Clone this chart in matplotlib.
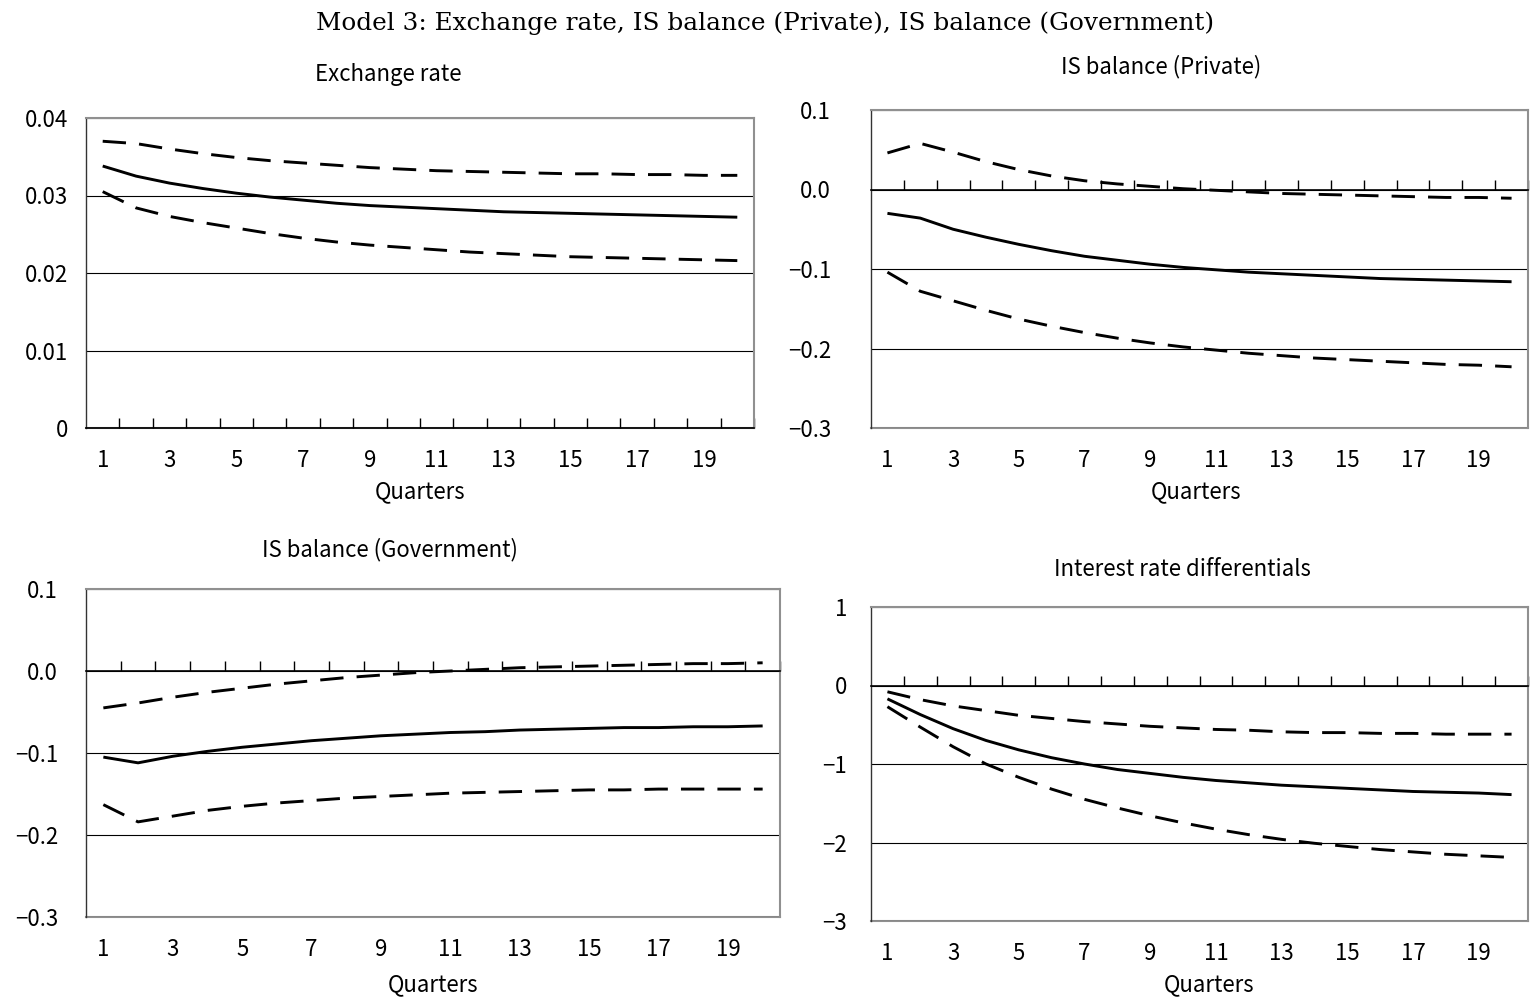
import numpy as np
import matplotlib
matplotlib.use('Agg')
import matplotlib.pyplot as plt
from matplotlib.ticker import FixedLocator, FuncFormatter

plt.rcParams['font.family'] = ['Noto Sans CJK JP', 'DejaVu Sans']

# quarters 1..20
quarters = np.arange(1, 21)

# Exchange rate
ex_mid = [0.0338, 0.0325, 0.0316, 0.0309, 0.0303, 0.0298, 0.0294, 0.0290, 0.0287, 0.0285,
          0.0283, 0.0281, 0.0279, 0.0278, 0.0277, 0.0276, 0.0275, 0.0274, 0.0273, 0.0272]
ex_up = [0.0370, 0.0367, 0.0360, 0.0354, 0.0349, 0.0345, 0.0342, 0.0339, 0.0336, 0.0334,
         0.0332, 0.0331, 0.0330, 0.0329, 0.0328, 0.0328, 0.0327, 0.0327, 0.0326, 0.0326]
ex_lo = [0.0305, 0.0284, 0.0273, 0.0265, 0.0258, 0.0251, 0.0245, 0.0240, 0.0236, 0.0233,
         0.0230, 0.0227, 0.0225, 0.0223, 0.0221, 0.0220, 0.0219, 0.0218, 0.0217, 0.0216]

# IS balance (Private)
pr_mid = [-0.030, -0.036, -0.050, -0.060, -0.069, -0.077, -0.084, -0.089, -0.094, -0.098,
          -0.101, -0.104, -0.106, -0.108, -0.110, -0.112, -0.113, -0.114, -0.115, -0.116]
pr_up = [0.046, 0.058, 0.047, 0.035, 0.025, 0.017, 0.011, 0.007, 0.004, 0.001,
         -0.001, -0.003, -0.005, -0.006, -0.007, -0.008, -0.009, -0.010, -0.010, -0.011]
pr_lo = [-0.104, -0.128, -0.140, -0.152, -0.163, -0.172, -0.180, -0.187, -0.193, -0.198,
         -0.202, -0.206, -0.209, -0.212, -0.214, -0.216, -0.218, -0.220, -0.221, -0.223]

# IS balance (Government)
gv_mid = [-0.105, -0.112, -0.104, -0.098, -0.093, -0.089, -0.085, -0.082, -0.079, -0.077,
          -0.075, -0.074, -0.072, -0.071, -0.070, -0.069, -0.069, -0.068, -0.068, -0.067]
gv_up = [-0.045, -0.039, -0.032, -0.026, -0.021, -0.016, -0.012, -0.008, -0.005, -0.002,
         0.000, 0.002, 0.004, 0.005, 0.006, 0.007, 0.008, 0.009, 0.009, 0.010]
gv_lo = [-0.163, -0.184, -0.177, -0.170, -0.165, -0.161, -0.158, -0.155, -0.153, -0.151,
         -0.149, -0.148, -0.147, -0.146, -0.145, -0.145, -0.144, -0.144, -0.144, -0.144]

# Interest rate differentials
ir_mid = [-0.17, -0.37, -0.55, -0.70, -0.82, -0.92, -1.00, -1.07, -1.12, -1.17,
          -1.21, -1.24, -1.27, -1.29, -1.31, -1.33, -1.35, -1.36, -1.37, -1.39]
ir_up = [-0.08, -0.18, -0.26, -0.32, -0.38, -0.42, -0.46, -0.49, -0.52, -0.54,
         -0.56, -0.57, -0.59, -0.60, -0.60, -0.61, -0.61, -0.62, -0.62, -0.62]
ir_lo = [-0.27, -0.53, -0.78, -1.00, -1.17, -1.32, -1.45, -1.56, -1.66, -1.75,
         -1.83, -1.90, -1.96, -2.01, -2.05, -2.09, -2.12, -2.15, -2.17, -2.19]

W, H = 1530, 999
fig = plt.figure(figsize=(W / 100, H / 100), dpi=100)

def px_rect(l, t, r, b):
    return [l / W, 1 - b / H, (r - l) / W, (b - t) / H]

panels = [
    # title, mid, up, lo, rect(px), yticks, formatter, ypad(px), title pos, xlabel pos
    ("Exchange rate", ex_mid, ex_up, ex_lo, (86, 118, 754, 428),
     [0, 0.01, 0.02, 0.03, 0.04], lambda v, p: "0" if v == 0 else "%.2f" % v, 18, (388, 75), (420, 492)),
    ("IS balance (Private)", pr_mid, pr_up, pr_lo, (871, 110, 1528, 428),
     [-0.3, -0.2, -0.1, 0.0, 0.1], lambda v, p: ("%.1f" % v).replace("-", "\u2212"), 40, (1161, 67), (1196, 492)),
    ("IS balance (Government)", gv_mid, gv_up, gv_lo, (86, 589, 780, 917),
     [-0.3, -0.2, -0.1, 0.0, 0.1], lambda v, p: ("%.1f" % v).replace("-", "\u2212"), 28, (390, 550), (433, 985)),
    ("Interest rate differentials", ir_mid, ir_up, ir_lo, (871, 607, 1528, 921),
     [-3, -2, -1, 0, 1], lambda v, p: ("%d" % round(v)).replace("-", "\u2212"), 24, (1182, 570), (1209, 985)),
]

fs = 16
for title, mid, up, lo, rect, yt, fmt, ypad, tpos, xpos in panels:
    ax = fig.add_axes(px_rect(*rect))
    ax.plot(quarters, mid, color='black', lw=2.1, solid_capstyle='butt')
    ax.plot(quarters, up, color='black', lw=2.1, linestyle=(0, (8, 4.5)))
    ax.plot(quarters, lo, color='black', lw=2.1, linestyle=(0, (8, 4.5)))

    ax.set_xlim(0.5, 20.5)
    ax.set_ylim(yt[0], yt[-1])
    ax.yaxis.set_major_locator(FixedLocator(yt))
    ax.yaxis.set_major_formatter(FuncFormatter(fmt))
    ax.tick_params(axis='y', length=0, pad=ypad * 0.72, labelsize=fs)
    ax.grid(axis='y', color='black', lw=0.8)
    ax.set_axisbelow(True)

    # zero axis with inward ticks between categories
    ax.spines['bottom'].set_position(('data', 0))
    ax.spines['bottom'].set_color('black')
    ax.spines['bottom'].set_linewidth(1.2)
    ax.xaxis.set_major_locator(FixedLocator(np.arange(1.5, 21, 1.0)))
    ax.tick_params(axis='x', direction='in', length=7, width=1, labelbottom=False)

    ax.spines['left'].set_color('#333333')
    ax.spines['left'].set_linewidth(1.0)
    for s in ['top', 'right']:
        ax.spines[s].set_color('#909090')
        ax.spines[s].set_linewidth(1.5)

    # labels along the bottom of the box
    sec = ax.secondary_xaxis(0.0)
    sec.set_xticks(np.arange(1, 20, 2))
    sec.tick_params(length=0, pad=15, labelsize=fs)
    sec.spines['bottom'].set_color('#909090')
    sec.spines['bottom'].set_linewidth(1.5)

    fig.text(tpos[0] / W, 1 - tpos[1] / H, title, ha='center', va='center', fontsize=fs)
    fig.text(xpos[0] / W, 1 - xpos[1] / H, "Quarters", ha='center', va='center', fontsize=fs)

fig.text(765 / W, 1 - 23 / H, "Model 3: Exchange rate, IS balance (Private), IS balance (Government)",
         ha='center', va='center', fontsize=17.8, family='DejaVu Serif')

fig.savefig('out.png', dpi=100)
